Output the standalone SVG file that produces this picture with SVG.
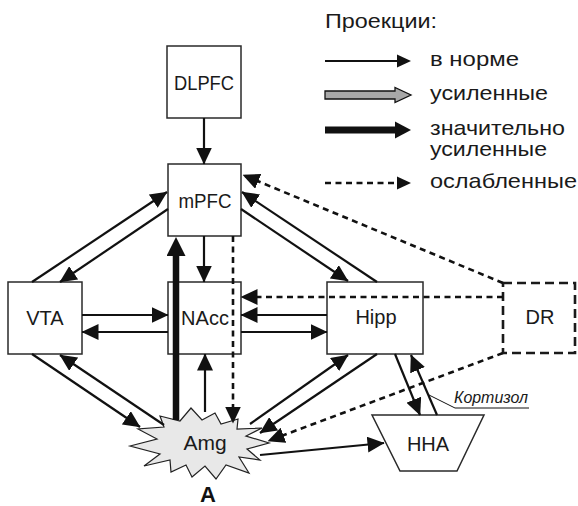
<svg xmlns="http://www.w3.org/2000/svg" width="578" height="506" viewBox="0 0 578 506">
  <defs>
    <style>
      .box { fill: #fff; stroke: #2a2a2a; stroke-width: 1.5; }
      .dbox { fill: #fff; stroke: #1a1a1a; stroke-width: 2.6; stroke-dasharray: 9 5; }
      .lbl { font-family: "Liberation Sans", Arial, sans-serif; font-size: 20px; fill: #1a1a1a; text-anchor: middle; }
      .leg { font-family: "Liberation Sans", Arial, sans-serif; font-size: 21px; fill: #1a1a1a; }
      .ln { fill: none; stroke: #111; stroke-width: 2.2; marker-end: url(#ah); }
      .dash { fill: none; stroke: #111; stroke-width: 2.6; stroke-dasharray: 6 4.5; marker-end: url(#ah); }
      .thick { fill: none; stroke: #111; stroke-width: 6.5; marker-end: url(#ahT); }
    </style>
    <marker id="ah" markerUnits="userSpaceOnUse" markerWidth="17" markerHeight="16" refX="16.5" refY="8" orient="auto">
      <path d="M0,0 L17,8 L0,16 z" fill="#111"/>
    </marker>
    <marker id="ahT" markerUnits="userSpaceOnUse" markerWidth="19" markerHeight="19" refX="2" refY="9.5" orient="auto">
      <path d="M0,0 L19,9.5 L0,19 z" fill="#111"/>
    </marker>
  </defs>
  <rect width="578" height="506" fill="#fff"/>

  <!-- legend -->
  <g id="legend">
    <text class="leg" x="325" y="28" textLength="112" lengthAdjust="spacingAndGlyphs">Проекции:</text>
    <line x1="325" y1="61" x2="398" y2="61" stroke="#111" stroke-width="2.2"/>
    <polygon points="397,54.5 411,61 397,67.5" fill="#111"/>
    <text class="leg" x="430" y="66" textLength="89" lengthAdjust="spacingAndGlyphs">в норме</text>
    <polygon points="325,91 395,91 395,87.5 411,95 395,102.5 395,99 325,99" fill="#a8a8a8" stroke="#111" stroke-width="1.3"/>
    <text class="leg" x="430" y="100" textLength="118" lengthAdjust="spacingAndGlyphs">усиленные</text>
    <rect x="325" y="126.5" width="72" height="7" fill="#111"/>
    <polygon points="395,121.5 411,130 395,138.5" fill="#111"/>
    <text class="leg" x="430" y="135" textLength="135" lengthAdjust="spacingAndGlyphs">значительно</text>
    <text class="leg" x="430" y="156" textLength="117" lengthAdjust="spacingAndGlyphs">усиленные</text>
    <line x1="325" y1="183" x2="398" y2="183" stroke="#111" stroke-width="2.6" stroke-dasharray="6 4.5"/>
    <polygon points="397,176.5 411,183 397,189.5" fill="#111"/>
    <text class="leg" x="430" y="188" textLength="147" lengthAdjust="spacingAndGlyphs">ослабленные</text>
  </g>

  <!-- nodes -->
  <g id="DLPFC">
    <rect class="box" x="167" y="46" width="74" height="72"/>
    <text class="lbl" x="204" y="90" textLength="60" lengthAdjust="spacingAndGlyphs">DLPFC</text>
  </g>
  <g id="mPFC">
    <rect class="box" x="168" y="164" width="73" height="72"/>
    <text class="lbl" x="205" y="208" textLength="53" lengthAdjust="spacingAndGlyphs">mPFC</text>
  </g>
  <g id="VTA">
    <rect class="box" x="8" y="282" width="74" height="72"/>
    <text class="lbl" x="45" y="325">VTA</text>
  </g>
  <g id="NAcc">
    <rect class="box" x="168" y="282" width="73" height="72"/>
    <text class="lbl" x="205" y="325">NAcc</text>
  </g>
  <g id="Hipp">
    <rect class="box" x="327" y="282" width="96" height="72"/>
    <text class="lbl" x="376" y="324">Hipp</text>
  </g>
  <g id="DR">
    <rect class="dbox" x="503" y="283" width="72" height="70"/>
    <text class="lbl" x="540" y="324">DR</text>
  </g>
  <g id="HHA">
    <polygon class="box" points="372,415 484,415 457,471 400,471"/>
    <text class="lbl" x="428" y="451">HHA</text>
  </g>
  <g id="Amg">
    <polygon points="130,446 157,439 138,429 164,427 160,416 180,421 191,408 202,420 215,413 221,424 238,419 237,429 262,428 246,436 269,443 247,449 260,460 239,457 249,473 226,465 216,479 205,466 192,477 186,465 171,472 170,460 144,466 160,454" fill="#e8e8e8" stroke="#222" stroke-width="1.2" stroke-linejoin="miter"/>
    <text class="lbl" x="205" y="450" style="font-size:21px">Amg</text>
    <text x="208" y="502" font-family="Liberation Sans, Arial, sans-serif" font-size="22" font-weight="bold" fill="#111" text-anchor="middle">A</text>
  </g>

  <!-- connectors -->
  <g id="connectors">
    <line class="ln" x1="204" y1="118" x2="204" y2="164"/>
    <line class="ln" x1="204" y1="236" x2="204" y2="282"/>
    <line class="ln" x1="32" y1="282" x2="167" y2="192"/>
    <line class="ln" x1="168" y1="209" x2="60" y2="282"/>
    <line class="ln" x1="377" y1="282" x2="242" y2="192"/>
    <line class="ln" x1="241" y1="209" x2="348" y2="281"/>
    <line class="dash" x1="503" y1="283" x2="243" y2="175"/>
    <line class="ln" x1="82" y1="315" x2="168" y2="315"/>
    <line class="ln" x1="168" y1="332" x2="82" y2="332"/>
    <line class="ln" x1="327" y1="315" x2="241" y2="315"/>
    <line class="ln" x1="241" y1="332" x2="327" y2="332"/>
    <line class="dash" x1="503" y1="297" x2="241" y2="297"/>
    <line class="dash" x1="233" y1="236" x2="233" y2="423"/>
    <line class="thick" x1="176" y1="420" x2="176" y2="254"/>
    <line class="ln" x1="205" y1="412" x2="205" y2="354"/>
    <line class="ln" x1="32" y1="354" x2="140" y2="427"/>
    <line class="ln" x1="164" y1="425" x2="60" y2="355"/>
    <line class="ln" x1="250" y1="424" x2="348" y2="355"/>
    <line class="ln" x1="377" y1="354" x2="260" y2="433"/>
    <line class="dash" x1="503" y1="353" x2="268" y2="441"/>
    <line class="ln" x1="260" y1="455" x2="384" y2="443"/>
    <line class="ln" x1="395" y1="354" x2="420" y2="415"/>
    <line class="ln" x1="437" y1="415" x2="411" y2="355"/>
    <polyline points="429,395 455,408 529,408" fill="none" stroke="#111" stroke-width="1"/>
    <text x="454" y="403" font-family="Liberation Sans, Arial, sans-serif" font-size="17" font-style="italic" fill="#1a1a1a" textLength="74" lengthAdjust="spacingAndGlyphs">Кортизол</text>
  </g>
</svg>
